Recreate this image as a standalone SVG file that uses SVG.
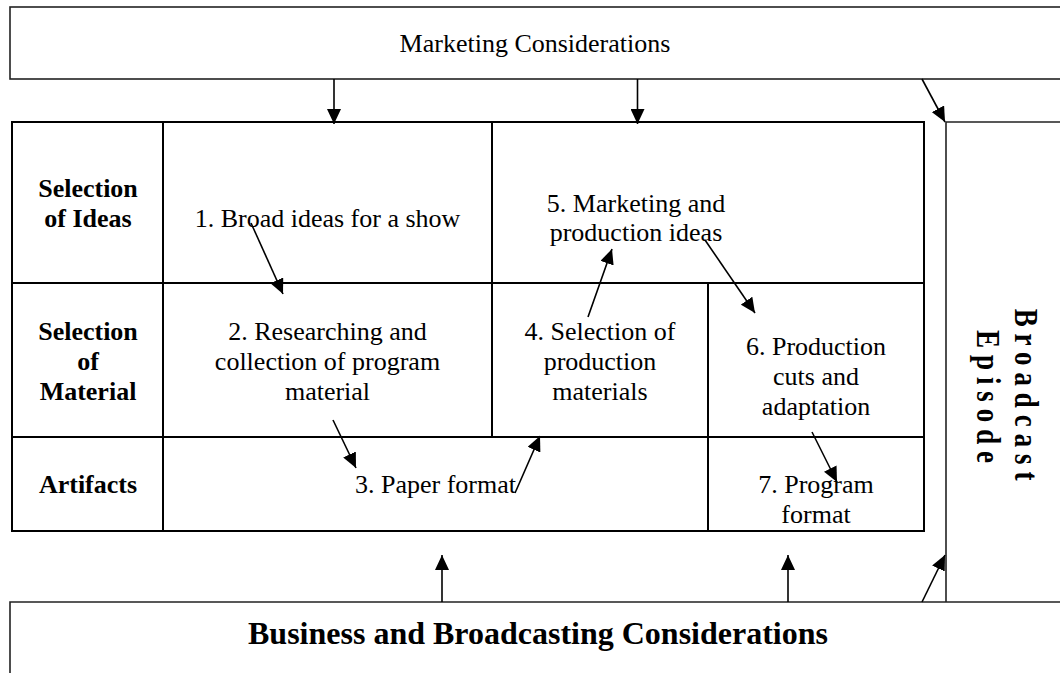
<svg xmlns="http://www.w3.org/2000/svg" width="1060" height="673" viewBox="0 0 1060 673">
<style>
.t{font-family:"Liberation Serif","Times New Roman",serif;font-size:26px;text-anchor:middle;fill:#000}
.b{font-weight:bold}
.frame{fill:none;stroke:#222;stroke-width:1.6}
.grid{fill:none;stroke:#000;stroke-width:2}
.arr{fill:none;stroke:#000;stroke-width:1.6;marker-end:url(#ah)}
.vt{font-size:33px;letter-spacing:8.4px}
</style>
<defs>
<marker id="ah" viewBox="0 0 15 14" refX="15" refY="7" markerWidth="15" markerHeight="14" markerUnits="userSpaceOnUse" orient="auto">
<path d="M0,0 L15,7 L0,14 z" fill="#000"/>
</marker>
</defs>
<rect width="1060" height="673" fill="#fff"/>

<g id="marketing">
<rect class="frame" x="10" y="7" width="1060" height="72"/>
<text class="t" x="535" y="52">Marketing Considerations</text>
</g>

<g id="business">
<path class="frame" d="M10,680 V602 H1070"/>
<text class="t b" x="538" y="644" style="font-size:32px">Business and Broadcasting Considerations</text>
</g>

<g id="broadcast">
<path class="frame" d="M1070,122 H946 V602"/>
<g transform="rotate(90)">
<text class="t b vt" transform="translate(398,-1015) scale(0.82,1)" x="0" y="0">Broadcast</text>
<text class="t b vt" transform="translate(400,-977) scale(0.82,1)" x="0" y="0">Episode</text>
</g>
</g>

<g id="table">
<rect class="grid" x="12" y="122" width="912" height="409"/>
<path class="grid" d="M12,283 H924 M12,437 H924 M163,122 V531 M492,122 V437 M708,283 V531"/>
</g>

<g id="row-ideas">
<text class="t b" x="88" y="197">Selection</text>
<text class="t b" x="88" y="227">of Ideas</text>
</g>
<g id="row-material">
<text class="t b" x="88" y="340">Selection</text>
<text class="t b" x="88" y="370">of</text>
<text class="t b" x="88" y="400">Material</text>
</g>
<g id="row-artifacts">
<text class="t b" x="88" y="493">Artifacts</text>
</g>

<g id="n1"><text class="t" x="327.5" y="227">1. Broad ideas for a show</text></g>
<g id="n5">
<text class="t" x="636" y="212">5. Marketing and</text>
<text class="t" x="636" y="241">production ideas</text>
</g>
<g id="n2">
<text class="t" x="327.5" y="340">2. Researching and</text>
<text class="t" x="327.5" y="370">collection of program</text>
<text class="t" x="327.5" y="400">material</text>
</g>
<g id="n4">
<text class="t" x="600" y="340">4. Selection of</text>
<text class="t" x="600" y="370">production</text>
<text class="t" x="600" y="400">materials</text>
</g>
<g id="n6">
<text class="t" x="816" y="355">6. Production</text>
<text class="t" x="816" y="385">cuts and</text>
<text class="t" x="816" y="415">adaptation</text>
</g>
<g id="n3"><text class="t" x="435.5" y="493">3. Paper format</text></g>
<g id="n7">
<text class="t" x="816" y="493">7. Program</text>
<text class="t" x="816" y="523">format</text>
</g>

<g id="connectors">
<line class="arr" x1="334" y1="79" x2="334" y2="124"/>
<line class="arr" x1="637.5" y1="79" x2="637.5" y2="124"/>
<line class="arr" x1="922" y1="79" x2="945" y2="122"/>
<line class="arr" x1="442" y1="602" x2="442" y2="555"/>
<line class="arr" x1="788" y1="602" x2="788" y2="555"/>
<line class="arr" x1="922" y1="602" x2="945" y2="555"/>
<line class="arr" x1="251" y1="223" x2="283" y2="294"/>
<line class="arr" x1="588" y1="317" x2="612" y2="249"/>
<line class="arr" x1="705" y1="240" x2="755" y2="313"/>
<line class="arr" x1="333" y1="420" x2="356" y2="468"/>
<line class="arr" x1="515" y1="493" x2="540" y2="436"/>
<line class="arr" x1="812" y1="432" x2="837" y2="482"/>
</g>
</svg>
